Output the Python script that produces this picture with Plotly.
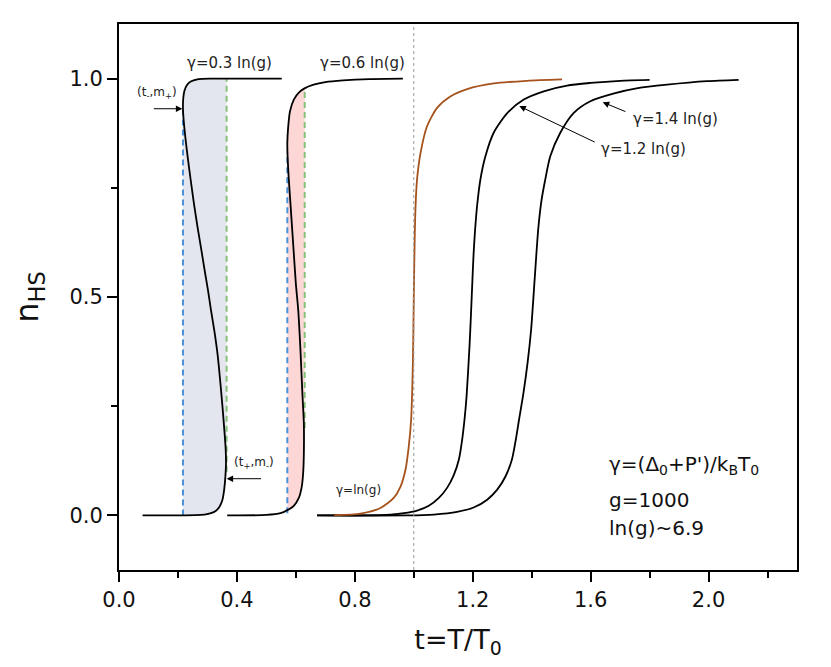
import numpy as np
import plotly.graph_objects as go

# curves n_HS(t), ordered along the curve (t, n)
t_03 = [0.080, 0.200, 0.260, 0.290, 0.312, 0.328, 0.341, 0.351, 0.357, 0.361, 0.363, 0.362, 0.358,
        0.350, 0.343, 0.335, 0.324, 0.312, 0.302, 0.292, 0.280, 0.266, 0.254, 0.243, 0.234,
        0.226, 0.220, 0.217, 0.218, 0.222, 0.230, 0.245, 0.270, 0.320, 0.552]
n_03 = [0.000, 0.000, 0.0005, 0.002, 0.005, 0.010, 0.020, 0.036, 0.060, 0.090, 0.120, 0.150, 0.190,
        0.257, 0.310, 0.365, 0.420, 0.470, 0.515, 0.555, 0.605, 0.662, 0.715, 0.769, 0.815,
        0.860, 0.900, 0.930, 0.955, 0.972, 0.985, 0.994, 0.999, 1.000, 1.000]

t_06 = [0.367, 0.500, 0.548, 0.571, 0.593, 0.610, 0.620, 0.625, 0.627, 0.627, 0.622, 0.616,
        0.608, 0.600, 0.591, 0.583, 0.576, 0.572, 0.571, 0.574, 0.580, 0.593, 0.610, 0.628,
        0.660, 0.700, 0.760, 0.850, 0.963]
n_06 = [0.000, 0.001, 0.005, 0.012, 0.022, 0.040, 0.066, 0.100, 0.140, 0.212, 0.280, 0.372,
        0.470, 0.530, 0.620, 0.700, 0.770, 0.820, 0.853, 0.890, 0.925, 0.952, 0.968, 0.977,
        0.986, 0.992, 0.996, 0.999, 1.000]

t_10 = [0.730, 0.819, 0.887, 0.932, 0.955, 0.972, 0.983, 0.991, 0.997, 1.000, 1.003, 1.006,
        1.011, 1.023, 1.045, 1.079, 1.124, 1.181, 1.271, 1.384, 1.503]
n_10 = [0.000, 0.004, 0.017, 0.040, 0.066, 0.105, 0.158, 0.219, 0.350, 0.500, 0.631, 0.707,
        0.769, 0.830, 0.891, 0.933, 0.959, 0.976, 0.989, 0.995, 0.998]

t_12 = [0.672, 0.850, 0.921, 0.966, 1.011, 1.051, 1.085, 1.113, 1.136, 1.153, 1.164, 1.172,
        1.179, 1.189, 1.194, 1.199, 1.203, 1.208, 1.215, 1.226, 1.243, 1.271, 1.317, 1.373,
        1.441, 1.520, 1.599, 1.700, 1.800]
n_12 = [0.000, 0.000, 0.002, 0.005, 0.011, 0.022, 0.040, 0.063, 0.093, 0.128, 0.173, 0.219,
        0.272, 0.387, 0.460, 0.540, 0.600, 0.654, 0.710, 0.769, 0.822, 0.876, 0.921, 0.952,
        0.971, 0.984, 0.990, 0.995, 0.997]

t_14 = [0.672, 0.978, 1.068, 1.147, 1.203, 1.249, 1.283, 1.311, 1.333, 1.346, 1.357, 1.372,
        1.386, 1.398, 1.410, 1.422, 1.433, 1.446, 1.463, 1.497, 1.542, 1.599, 1.680, 1.760,
        1.859, 1.995, 2.102]
n_14 = [0.000, 0.000, 0.002, 0.008, 0.018, 0.036, 0.059, 0.089, 0.128, 0.173, 0.219, 0.280,
        0.349, 0.425, 0.540, 0.654, 0.720, 0.769, 0.822, 0.876, 0.921, 0.948, 0.966, 0.978,
        0.986, 0.994, 0.997]

# spinodal points (t-, m+) and (t+, m-) for the two hysteretic curves
t_minus = [0.217, 0.571]
m_plus = [0.930, 0.830]
t_plus = [0.365, 0.630]
m_minus = [0.100, 0.200]
band_top = [1.000, 0.975]
band_bottom = [0.000, 0.005]

BLACK = "#000000"
BROWN = "#a5521c"
BLUE = "#4a90d9"
GREEN = "#86c27a"
fills = ["#e4e6ef", "#fdd6d6"]

fig = go.Figure()

# shaded hysteresis bands: region between t- and t+ bounded by the curve
for k, (tc, nc) in enumerate([(t_03, n_03), (t_06, n_06)]):
    tc = np.array(tc)
    nc = np.array(nc)
    lo = np.where(nc < 0.5)[0]
    hi = np.where(nc > 0.5)[0]
    a = lo[np.argmax(tc[lo] >= t_minus[k])]
    c = lo[np.argmax(tc[lo])]
    d = hi[np.argmin(tc[hi])]
    after = [i for i in hi if i > d and tc[i] >= t_plus[k]]
    b = after[0] if after else hi[-1]
    # piece left of the curve
    px = [t_minus[k]] + list(tc[a:d + 1]) + [t_minus[k]]
    py = [nc[a]] + list(nc[a:d + 1]) + [nc[d]]
    fig.add_trace(go.Scatter(x=px, y=py, mode="lines", fill="toself",
                             fillcolor=fills[k], line=dict(width=0, shape="spline", smoothing=0.6),
                             hoverinfo="skip", showlegend=False))
    # piece right of the curve
    qx = list(tc[c:b]) + [t_plus[k], t_plus[k]]
    qy = list(nc[c:b]) + [nc[b], nc[c]]
    fig.add_trace(go.Scatter(x=qx, y=qy, mode="lines", fill="toself",
                             fillcolor=fills[k], line=dict(width=0),
                             hoverinfo="skip", showlegend=False))

# dashed spinodal lines
for k in range(2):
    fig.add_trace(go.Scatter(x=[t_minus[k], t_minus[k]], y=[band_bottom[k], m_plus[k]],
                             mode="lines", line=dict(color=BLUE, width=2, dash="6px,4px"),
                             showlegend=False))
    fig.add_trace(go.Scatter(x=[t_plus[k], t_plus[k]], y=[m_minus[k], band_top[k]],
                             mode="lines", line=dict(color=GREEN, width=2, dash="6px,4px"),
                             showlegend=False))

# t = 1 reference line
fig.add_shape(type="line", x0=1.0, x1=1.0, y0=0, y1=1, xref="x", yref="paper",
              line=dict(color="#999999", width=1, dash="dot"))

for tc, nc, col in [(t_12, n_12, BLACK), (t_14, n_14, BLACK), (t_03, n_03, BLACK),
                    (t_06, n_06, BLACK), (t_10, n_10, BROWN)]:
    fig.add_trace(go.Scatter(x=tc, y=nc, mode="lines",
                             line=dict(color=col, width=1.8, shape="spline", smoothing=0.7),
                             showlegend=False))

small = dict(family="DejaVu Sans", size=12, color="#222222")
mid = dict(family="DejaVu Sans", size=15, color="#222222")
big = dict(family="DejaVu Sans", size=20, color="#111111")

anns = [
    dict(x=0.375, y=1.036, text="γ=0.3 ln(g)", font=mid),
    dict(x=0.825, y=1.036, text="γ=0.6 ln(g)", font=mid),
    dict(x=0.130, y=0.966, text="(t<sub>-</sub>,m<sub>+</sub>)", font=small),
    dict(x=0.457, y=0.121, text="(t<sub>+</sub>,m<sub>-</sub>)", font=small),
    dict(x=0.811, y=0.059, text="γ=ln(g)", font=small),
    dict(x=1.887, y=0.908, text="γ=1.4 ln(g)", font=mid),
    dict(x=1.778, y=0.839, text="γ=1.2 ln(g)", font=mid),
    dict(x=1.657, y=0.116, text="γ=(Δ<sub>0</sub>+P')/k<sub>B</sub>T<sub>0</sub>", font=big, xanchor="left"),
    dict(x=1.657, y=0.036, text="g=1000", font=big, xanchor="left"),
    dict(x=1.657, y=-0.028, text="ln(g)~6.9", font=big, xanchor="left"),
]
for a in anns:
    fig.add_annotation(showarrow=False, xref="x", yref="y", **a)

# arrows: (head t, head n, tail t, tail n)
arrows = [(0.215, 0.931, 0.113, 0.931),
          (0.365, 0.084, 0.487, 0.084),
          (1.641, 0.946, 1.723, 0.923),
          (1.358, 0.937, 1.619, 0.853)]
for hx, hy, tx, ty in arrows:
    fig.add_annotation(x=hx, y=hy, ax=tx, ay=ty, xref="x", yref="y", axref="x", ayref="y",
                       text="", showarrow=True, arrowhead=2, arrowsize=1.3, arrowwidth=1,
                       arrowcolor="#000000")

axis = dict(showline=True, linecolor="black", linewidth=2, mirror=True, ticks="outside",
            tickwidth=2, ticklen=10, tickcolor="black", showgrid=False, zeroline=False,
            automargin=False,
            tickfont=dict(family="DejaVu Sans", size=21, color="#111111"))
fig.update_xaxes(range=[0, 2.3], dtick=0.4, tick0=0, tickformat=".1f",
                 minor=dict(dtick=0.2, ticks="outside", ticklen=6, tickwidth=2, tickcolor="black"),
                 title=dict(text="t=T/T<sub>0</sub>", font=dict(family="DejaVu Sans", size=27, color="#111111"),
                            standoff=19),
                 **axis)
fig.update_yaxes(range=[-0.125, 1.125], dtick=0.5, tick0=0, tickformat=".1f",
                 minor=dict(dtick=0.25, ticks="outside", ticklen=6, tickwidth=2, tickcolor="black"),
                 title=dict(text="n<sub>HS</sub>", font=dict(family="DejaVu Sans", size=32, color="#111111"),
                            standoff=22),
                 **axis)

# page body adds an 8px offset, so the figure is slightly smaller than the window
fig.update_layout(width=823, height=659, plot_bgcolor="white", paper_bgcolor="white",
                  margin=dict(l=111, r=34, t=16, b=97), showlegend=False)

fig.write_html("out.html")
